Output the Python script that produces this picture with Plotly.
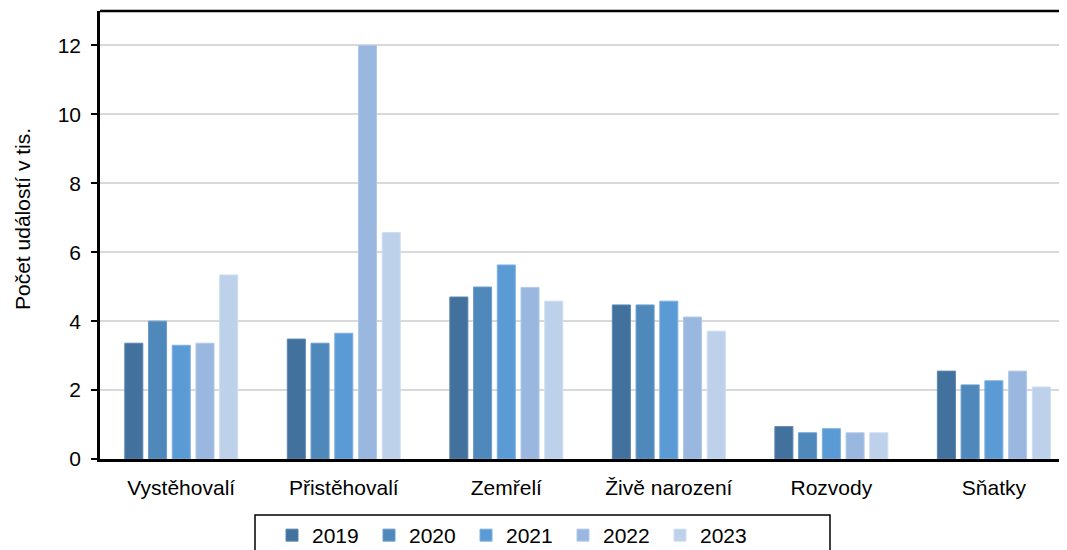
import plotly.graph_objects as go

categories = ["Vystěhovalí", "Přistěhovalí", "Zemřelí", "Živě narození", "Rozvody", "Sňatky"]
years = ["2019", "2020", "2021", "2022", "2023"]
v2019 = [3.36, 3.48, 4.70, 4.47, 0.94, 2.55]
v2020 = [4.00, 3.36, 4.99, 4.47, 0.76, 2.15]
v2021 = [3.30, 3.65, 5.63, 4.58, 0.88, 2.27]
v2022 = [3.36, 12.00, 4.98, 4.12, 0.76, 2.55]
v2023 = [5.34, 6.57, 4.58, 3.71, 0.76, 2.09]
series = [v2019, v2020, v2021, v2022, v2023]
colors = ["#41719C", "#4F89BC", "#5B9BD5", "#9AB8DF", "#BDD1EA"]
edge = ["#5A86B0", "#6A9CCB", "#7DB0E0", "#B1C9E8", "#CEDDF0"]

fig = go.Figure()
for y, vals, c, e in zip(years, series, colors, edge):
    fig.add_trace(go.Bar(name=y, x=categories, y=vals, marker=dict(color=c, line=dict(color=e, width=1))))

font = "Liberation Sans, Arial, sans-serif"
# page body has an 8px margin: figure is 1059x542 placed at (8, 8)
W, H = 1059, 542
ML, MT, MB = 92, 3, 91
plot_w = W - ML
plot_h = H - MT - MB
OFF = 8


def px_x(page_x):
    return (page_x - OFF - ML) / plot_w


def px_y(page_y):
    return (MT + plot_h - (page_y - OFF)) / plot_h


fig.update_layout(
    width=W, height=H,
    margin=dict(l=ML, r=0, t=MT, b=MB, autoexpand=False),
    paper_bgcolor="white", plot_bgcolor="white",
    barmode="group", bargap=0.27, bargroupgap=0.24,
    font=dict(family=font, size=21, color="#000000"),
    xaxis=dict(range=[-0.5, 5.45], showline=True, linecolor="black", linewidth=2.5,
               ticks="", tickfont=dict(size=21), ticklabelstandoff=8, fixedrange=True),
    yaxis=dict(range=[0, 13], dtick=2, showline=True, linecolor="black", linewidth=2.5,
               ticks="outside", ticklen=6, tickwidth=1.5, tickcolor="black",
               showgrid=True, gridcolor="#D9D9D9", gridwidth=1.5,
               tickfont=dict(size=21), ticklabelstandoff=6, fixedrange=True),
    legend=dict(orientation="h", x=px_x(272), xanchor="left",
                y=px_y(515), yanchor="top",
                borderwidth=0, font=dict(size=21), bgcolor="rgba(0,0,0,0)",
                entrywidth=52, entrywidthmode="pixels", traceorder="normal",
                itemclick=False, itemdoubleclick=False),
    annotations=[dict(text="Počet událostí v tis.", textangle=-90, showarrow=False,
                      xref="paper", yref="paper", x=px_x(22), y=px_y(219),
                      xanchor="center", yanchor="middle", font=dict(size=21))],
)
# top border line
fig.add_shape(type="line", xref="paper", yref="paper", x0=0, x1=1, y0=1, y1=1,
              line=dict(color="black", width=2.5))
# legend frame
fig.add_shape(type="rect", xref="paper", yref="paper",
              x0=px_x(255), x1=px_x(830), y0=px_y(515), y1=px_y(565),
              line=dict(color="black", width=1.5), fillcolor="rgba(0,0,0,0)")
fig.write_html("out.html")
